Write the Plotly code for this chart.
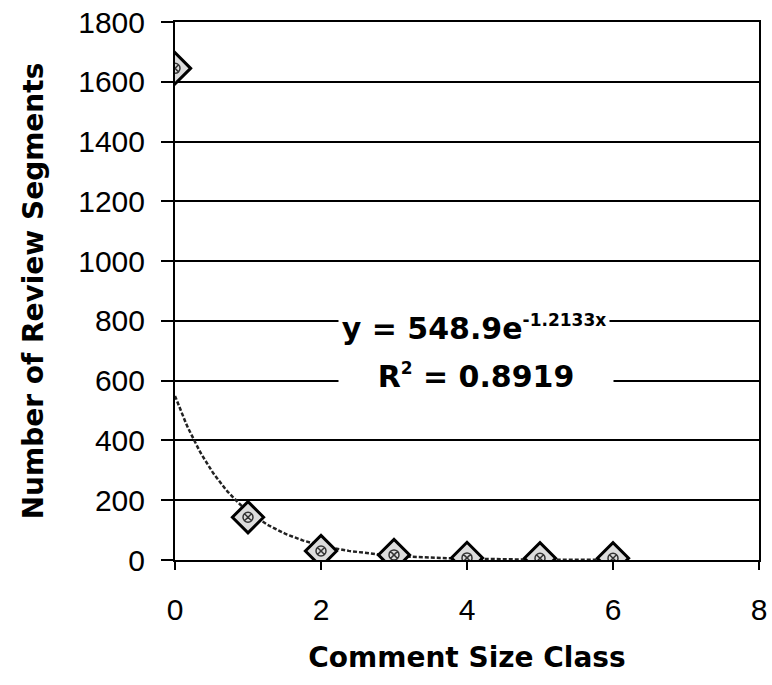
import numpy as np
import plotly.graph_objects as go

size_class = [0, 1, 2, 3, 4, 5, 6]
segments = [1645, 143, 30, 17, 7, 6, 6]
fit_a = 548.9
fit_b = -1.2133
r2 = 0.8919

y_ticks = [0, 200, 400, 600, 800, 1000, 1200, 1400, 1600, 1800]
x_ticks = [0, 2, 4, 6, 8]

xt = np.linspace(min(size_class), max(size_class), 200)
yt = fit_a * np.exp(fit_b * xt)

fig = go.Figure()
fig.add_trace(go.Scatter(x=xt, y=yt, mode="lines",
                         line=dict(color="#222222", width=2.5, dash="4px,2px"),
                         showlegend=False, hoverinfo="skip"))
fig.add_trace(go.Scatter(x=size_class, y=segments, mode="markers",
                         marker=dict(symbol="diamond", size=24, color="#dcdcdc",
                                     line=dict(color="black", width=3)),
                         showlegend=False))
fig.add_trace(go.Scatter(x=size_class, y=segments, mode="markers",
                         marker=dict(symbol="circle-x-open", size=10, color="#333333",
                                     line=dict(color="#333333", width=1.5)),
                         showlegend=False, hoverinfo="skip"))

eq_font = dict(family="DejaVu Sans", size=30, color="black")
sup = '<span style="font-size:17px">%s</span>'
fig.add_annotation(x=4.1, y=800, xref="x", yref="y", yshift=-7,
                   text="<b>y = %.1fe<sup>%s</sup></b>" % (fit_a, sup % ("%.4fx" % fit_b)),
                   showarrow=False, bgcolor="white", width=270,
                   font=eq_font, borderpad=0)
fig.add_annotation(x=4.12, y=600, xref="x", yref="y", yshift=5,
                   text="<b>R<sup>%s</sup> = %.4f</b>" % (sup % "2", r2),
                   showarrow=False, bgcolor="white", width=274,
                   font=eq_font, borderpad=0)

fig.update_layout(
    width=772, height=685,
    margin=dict(l=175, r=13, t=22, b=125, autoexpand=False),
    plot_bgcolor="white", paper_bgcolor="white",
    font=dict(family="Liberation Sans, Arial", size=30, color="black"),
    xaxis=dict(range=[0, 8], tickvals=x_ticks, showgrid=False, zeroline=False,
               showline=True, mirror=True, linecolor="black", linewidth=2,
               ticks="outside", ticklen=8, tickwidth=2, tickcolor="black",
               ticklabelstandoff=14, automargin=False,
               title=dict(text="<b>Comment Size Class</b>", standoff=22,
                          font=dict(family="DejaVu Sans", size=28))),
    yaxis=dict(range=[0, 1800], tickvals=y_ticks, showgrid=True, gridcolor="black",
               gridwidth=2, zeroline=False, showline=True, mirror=True,
               linecolor="black", linewidth=2,
               ticks="outside", ticklen=12, tickwidth=2, tickcolor="black",
               ticklabelstandoff=10, automargin=False,
               title=dict(text="<b>Number of Review Segments</b>", standoff=26,
                          font=dict(family="DejaVu Sans", size=28))),
)

fig.write_html("out.html")
